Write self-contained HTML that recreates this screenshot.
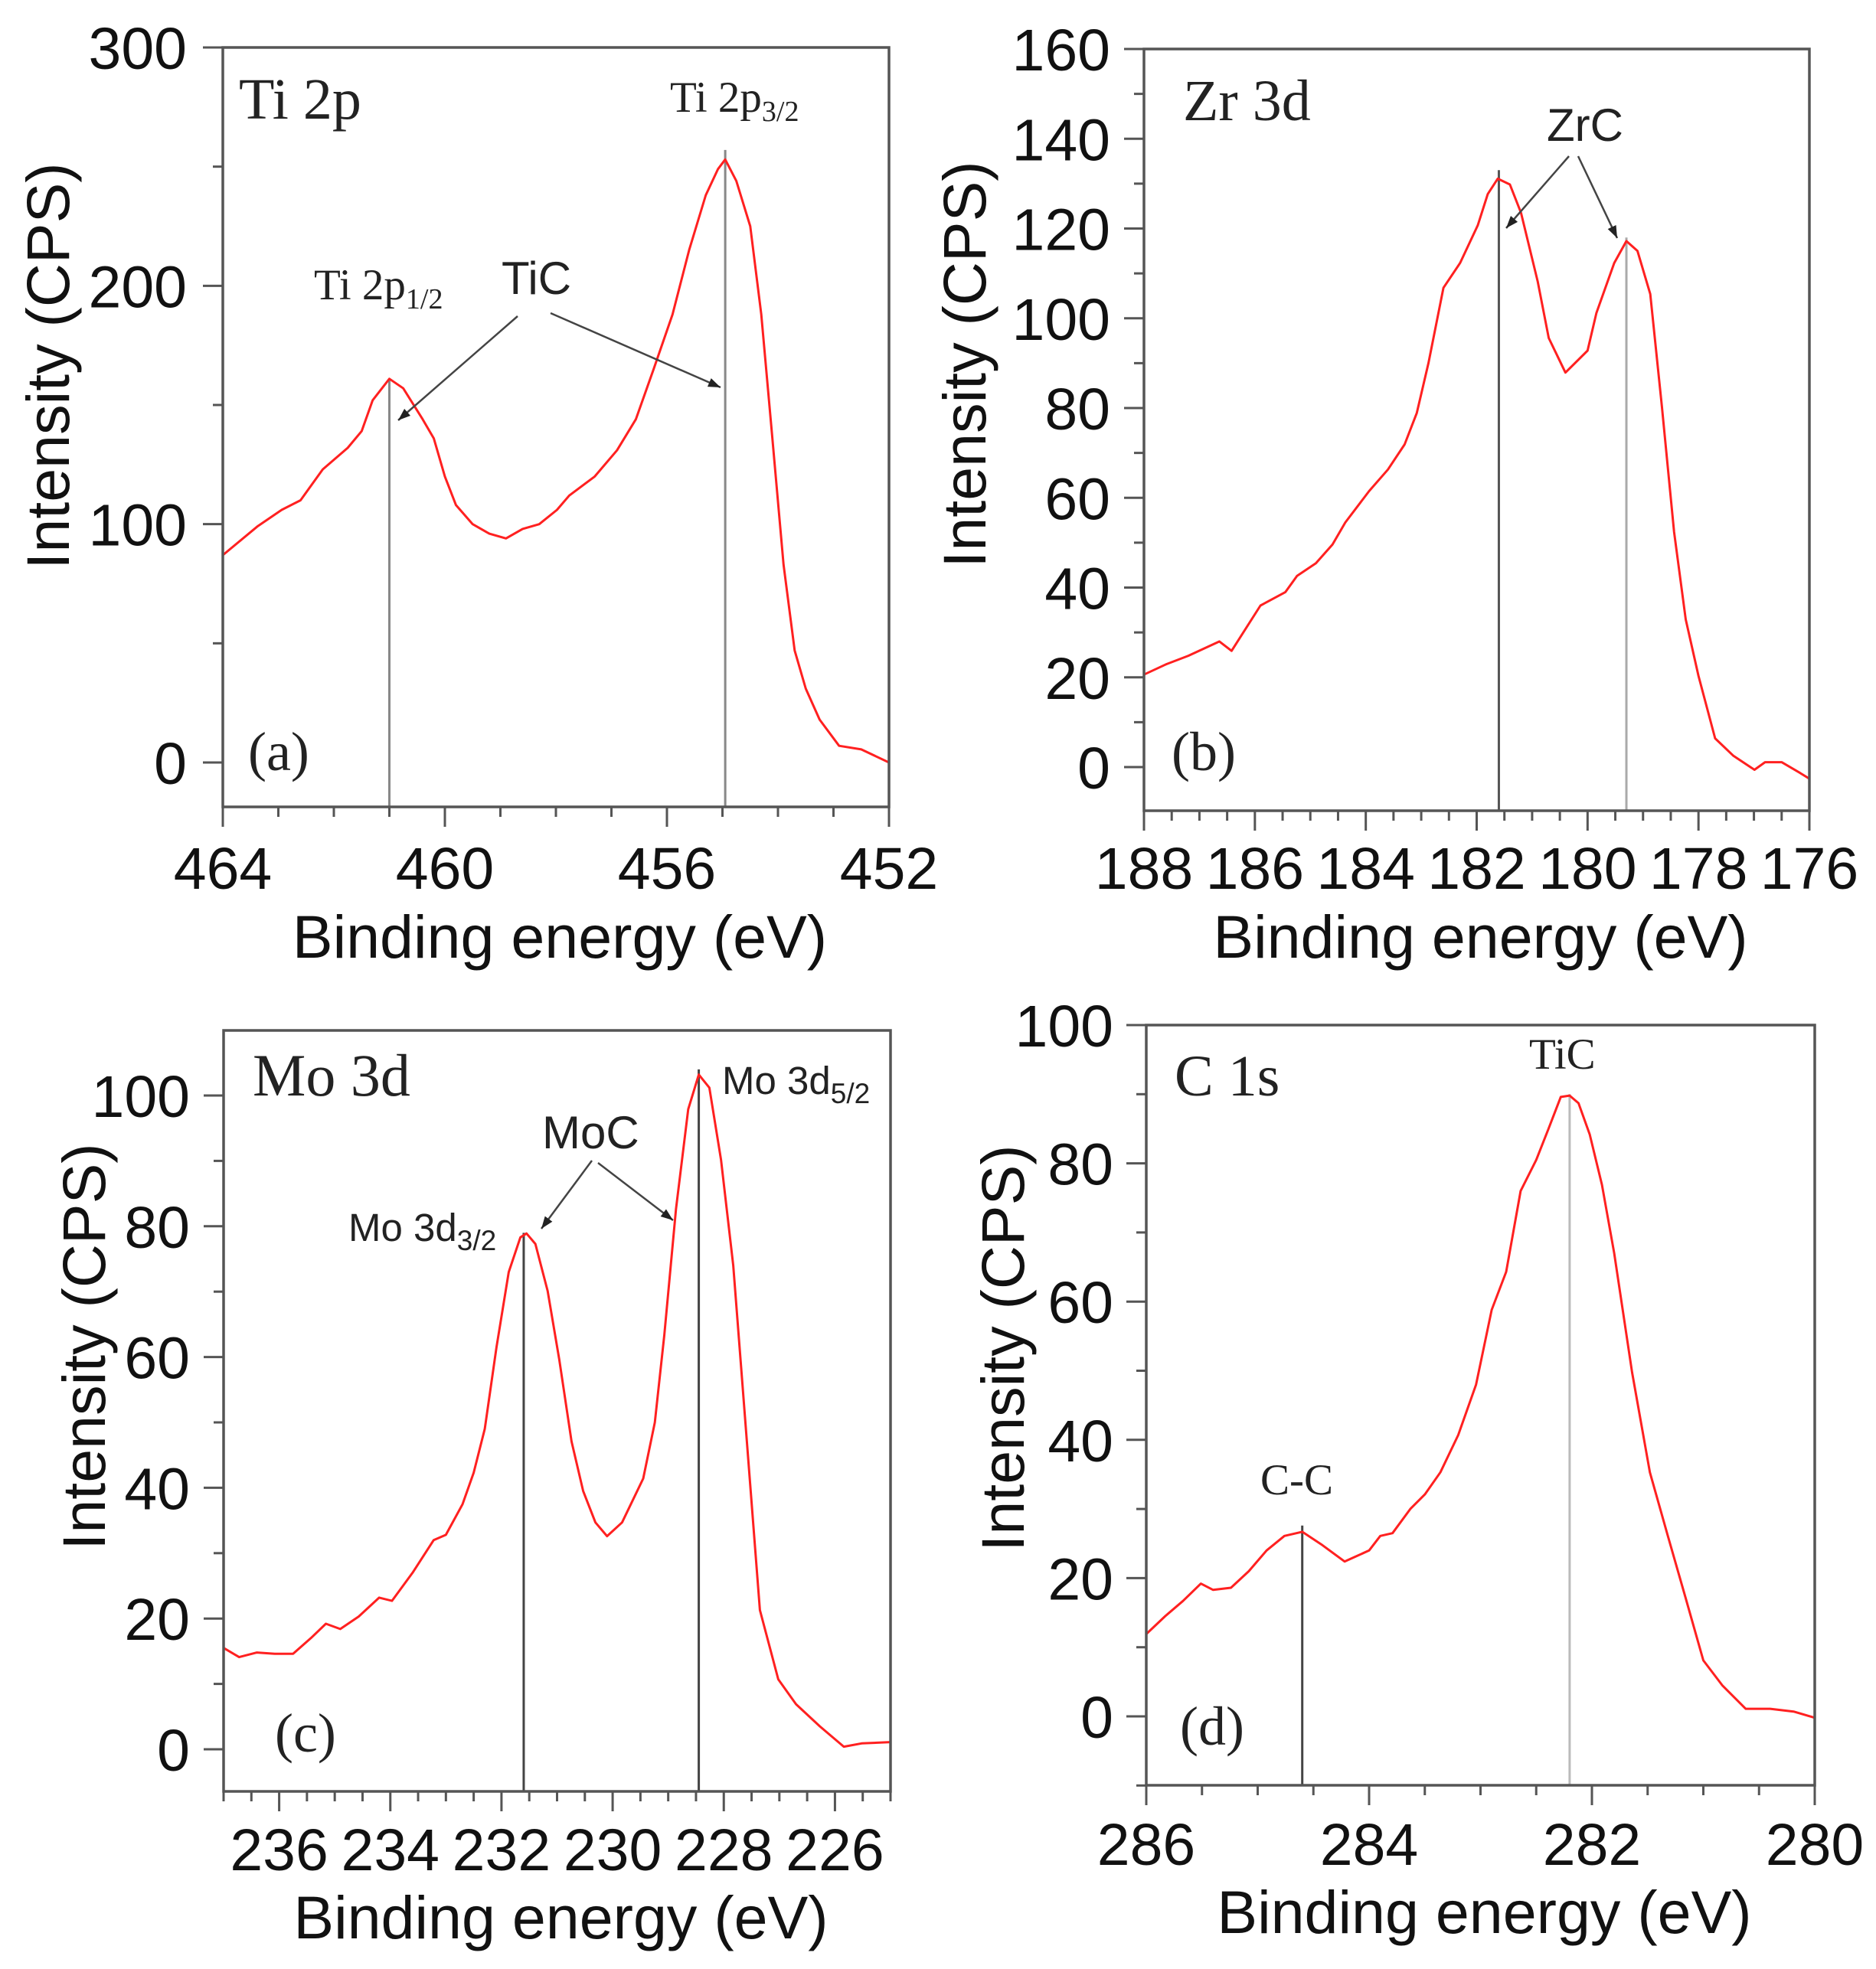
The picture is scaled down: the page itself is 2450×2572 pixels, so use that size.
<!DOCTYPE html>
<html><head><meta charset="utf-8"><style>
html,body{margin:0;padding:0;background:#fff;}
svg{display:block;}
.tick{font-family:"Liberation Sans",sans-serif;font-size:77px;fill:#111;}
.ttl{font-family:"Liberation Sans",sans-serif;font-size:79px;fill:#111;}
.ser{font-family:"Liberation Serif",serif;fill:#222;}
.san{font-family:"Liberation Sans",sans-serif;fill:#222;}
</style></head><body>
<svg id="fig" width="2450" height="2572" viewBox="0 0 2450 2572" xmlns="http://www.w3.org/2000/svg"></svg>
<script>
// ---- Panel (a) Ti 2p ----
const aX=[464,463.38,462.94,462.6,462.2,461.75,461.5,461.3,461.0,460.75,460.4,460.2,460.0,459.8,459.5,459.2,458.9,458.6,458.3,457.98,457.76,457.3,456.9,456.56,456.24,455.9,455.6,455.3,455.08,454.95,454.75,454.5,454.3,454.1,453.9,453.7,453.5,453.25,452.9,452.5,452];
const aY=[87,99,106,110,123,132,139,152,161,157,144,136,120,108,100,96,94,98,100,106,112,120,131,144,165,188,215,238,249,253,244,225,188,136,83,47,31,18,7,5.5,0];
const aPeaks=[461.0,454.95];
const aPeakTop=[161,257];
const aYTicks=[0,100,200,300];
const aXTicks=[464,460,456,452];
// ---- Panel (b) Zr 3d ----
const bX=[188,187.6,187.2,186.64,186.42,185.9,185.45,185.24,184.9,184.6,184.37,183.94,183.6,183.3,183.08,182.87,182.6,182.3,181.98,181.8,181.62,181.4,181.2,180.9,180.7,180.4,180.0,179.84,179.52,179.3,179.1,178.87,178.66,178.44,178.23,178.0,177.7,177.37,176.99,176.8,176.5,176.17,176];
const bY=[20.6,22.9,24.8,28,25.9,36,39,42.6,45.4,49.6,54.5,61.5,66.3,71.9,78.9,90,106.8,112.3,120.7,127.7,131.1,129.8,123.5,108.2,95.6,87.9,92.8,101.2,112.3,117.2,115,105.4,80.3,52.4,32.9,20.3,6.4,2.5,-0.6,1.1,1.1,-1.3,-2.6];
const bPeaks=[181.6,179.3];
const bPeakTop=[133,118];
const bYTicks=[0,20,40,60,80,100,120,140,160];
const bXTicks=[188,186,184,182,180,178,176];
// ---- Panel (c) Mo 3d ----
const cX=[237,236.72,236.4,236.08,235.75,235.43,235.16,234.9,234.57,234.2,233.97,233.6,233.22,233.0,232.7,232.5,232.3,232.09,231.87,231.66,231.55,231.39,231.17,230.96,230.74,230.53,230.31,230.1,229.83,229.45,229.24,229.07,228.86,228.64,228.45,228.26,228.05,227.83,227.62,227.35,227.02,226.7,226.27,225.84,225.52,225];
const cY=[15.5,14.1,14.8,14.6,14.6,17,19.2,18.4,20.3,23.2,22.7,27,32,32.8,37.5,42.3,49,61.5,73,78.3,78.9,77.3,70.1,59.6,47.1,39.5,34.7,32.6,34.7,41.4,50,63.4,82.6,97.9,103.2,101.2,90.2,74,51,21.3,10.7,6.9,3.5,0.4,0.9,1.1];
const cPeaks=[231.6,228.45];
const cPeakTop=[79,104];
const cYTicks=[0,20,40,60,80,100];
const cXTicks=[236,234,232,230,228,226];
// ---- Panel (d) C 1s ----
const dX=[286,285.83,285.67,285.51,285.4,285.24,285.08,284.92,284.76,284.6,284.43,284.22,284.0,283.9,283.79,283.63,283.5,283.36,283.2,283.04,282.9,282.77,282.64,282.5,282.39,282.28,282.2,282.12,282.02,281.91,281.8,281.64,281.48,281.32,281.16,281,280.83,280.62,280.4,280.19,280];
const dY=[11.9,14.5,16.7,19.2,18.3,18.6,21,24,26.1,26.7,24.9,22.4,24,26.1,26.5,30,32.1,35.3,40.7,48,58.8,64.3,76,80.5,85,89.6,89.8,88.7,84.2,76.9,67,49.8,35.3,26.2,17.2,8.1,4.5,1.1,1.1,0.7,-0.2];
const dPeaks=[284.6,282.2];
const dPeakTop=[27.6,90];
const dYTicks=[0,20,40,60,80,100];
const dXTicks=[286,284,282,280];

const NS="http://www.w3.org/2000/svg";
const svg=document.getElementById('fig');
function mk(tag,attrs,parent,text){const e=document.createElementNS(NS,tag);for(const k in attrs)e.setAttribute(k,attrs[k]);if(text!==undefined)e.textContent=text;(parent||svg).appendChild(e);return e;}

function panel(P){
  const g=mk('g',{});
  
  
  const sx=v=>P.L+(P.x0-v)/(P.x0-P.x1)*(P.R-P.L);
  const sy=v=>P.y0px+(v-0)*(P.yTop-P.y0px)/P.yMaxTick;
  P.peaks.forEach((pk,i)=>{
    const l=mk('line',{x1:sx(pk),x2:sx(pk),y1:P.B,y2:sy(P.peakTop[i]),stroke:P.peakCol[i],'stroke-width':3},g);
    
    
  });
  let d='';
  P.xs.forEach((x,i)=>{d+=(i?'L':'M')+sx(x).toFixed(1)+' '+sy(P.ys[i]).toFixed(1);});
  const c=mk('path',{d:d,fill:'none',stroke:'#ff2020','stroke-width':3,'stroke-linejoin':'round'},g);
  
  
  const f=mk('rect',{x:P.L,y:P.T,width:P.R-P.L,height:P.B-P.T,fill:'none',stroke:'#555','stroke-width':3.5},g);
  
  
  const yStep=P.yTicks[1]-P.yTicks[0];
  for(let v=P.yTicks[0]-yStep/2; v<=P.yTicks[P.yTicks.length-1]+0.001; v+=yStep/2){
    const y=sy(v); if(y>P.B+1||y<P.T-1) continue;
    const major=P.yTicks.some(t=>Math.abs(t-v)<1e-6);
    mk('line',{x1:P.L-(major?26:13),x2:P.L,y1:y,y2:y,stroke:'#555','stroke-width':3},g);
  }
  P.yTicks.forEach(v=>{
    const t=mk('text',{x:P.ytR,y:sy(v)+28,'text-anchor':'end',class:'tick'},g,String(v));
    
    
  });
  const lo=Math.min(P.x0,P.x1),hi=Math.max(P.x0,P.x1);
  for(let v=Math.ceil(lo/P.xMinor)*P.xMinor; v<=hi+1e-6; v+=P.xMinor){
    const x=sx(v);
    const major=P.xTicks.some(t=>Math.abs(t-v)<1e-6);
    mk('line',{x1:x,x2:x,y1:P.B,y2:P.B+(major?26:13),stroke:'#555','stroke-width':3},g);
  }
  P.xTicks.forEach(v=>{
    const t=mk('text',{x:sx(v),y:P.xtB,'text-anchor':'middle',class:'tick'},g,String(v));
    
    
  });
  const xt=mk('text',{x:(P.L+P.R)/2+5,y:P.xtitleB,'text-anchor':'middle',class:'ttl'},g,'Binding energy (eV)');
  
  
  const yc=P.ytitleY;
  const yt=mk('text',{x:P.ytitleX,y:yc,'text-anchor':'middle',class:'ttl',transform:'rotate(-90 '+P.ytitleX+' '+yc+')'},g,'Intensity (CPS)');
  
  
  return {g,sx,sy};
}

function txt(g,x,y,cls,size,content,name){
  const t=mk('text',{x:x,y:y,class:cls,'font-size':size},g);
  t.innerHTML=content;
  
  
  return t;
}
function arrow(g,x1,y1,x2,y2,name){
  const l=mk('line',{x1:x1,y1:y1,x2:x2,y2:y2,stroke:'#444','stroke-width':2.5},g);
  
  
  const a=Math.atan2(y2-y1,x2-x1),L=16,w=6;
  const p=[[x2,y2],[x2-L*Math.cos(a)+w*Math.sin(a),y2-L*Math.sin(a)-w*Math.cos(a)],[x2-L*Math.cos(a)-w*Math.sin(a),y2-L*Math.sin(a)+w*Math.cos(a)]];
  const h=mk('polygon',{points:p.map(q=>q.join(',')).join(' '),fill:'#222'},g);
  
  
}

// Panel a
let A=panel({id:'panel-a-ti2p',L:291,R:1161,T:62,B:1054,x0:464,x1:452,y0px:996,yTop:62,yMaxTick:300,
  xs:aX,ys:aY,peaks:aPeaks,peakTop:aPeakTop,peakCol:['#888','#888'],yTicks:aYTicks,xTicks:aXTicks,xMinor:1,
  ytR:244,xtB:1161,xtitleB:1251,ytitleX:90,ytitleY:478});
txt(A.g,312,155,'ser',76,'Ti 2p','panel-a-title');
txt(A.g,324,1006,'ser',72,'(a)','panel-a-label');
txt(A.g,410,391,'ser',57,'Ti 2p<tspan font-size="38" dy="12">1/2</tspan>','ti2p12-label');
txt(A.g,875,146,'ser',57,'Ti 2p<tspan font-size="38" dy="12">3/2</tspan>','ti2p32-label');
txt(A.g,655,384,'san',60,'TiC','tic-label');
arrow(A.g,676,413,520,549,'arrow-tic-1');
arrow(A.g,719,409,941,506,'arrow-tic-2');

// Panel b
let B=panel({id:'panel-b-zr3d',L:1494,R:2363,T:64,B:1059,x0:188,x1:176,y0px:1002,yTop:64,yMaxTick:160,
  xs:bX,ys:bY,peaks:bPeaks,peakTop:bPeakTop,peakCol:['#555','#aaa'],yTicks:bYTicks,xTicks:bXTicks,xMinor:0.5,
  ytR:1450,xtB:1161,xtitleB:1251,ytitleX:1287,ytitleY:476});
txt(B.g,1545,157,'ser',76,'Zr 3d','panel-b-title');
txt(B.g,1530,1006,'ser',72,'(b)','panel-b-label');
txt(B.g,2020,184,'san',60,'ZrC','zrc-label');
arrow(B.g,2049,204,1967,298,'arrow-zrc-1');
arrow(B.g,2061,204,2112,311,'arrow-zrc-2');

// Panel c
let C=panel({id:'panel-c-mo3d',L:292,R:1163,T:1346,B:2340,x0:237,x1:225,y0px:2285,yTop:1431,yMaxTick:100,
  xs:cX,ys:cY,peaks:cPeaks,peakTop:cPeakTop,peakCol:['#444','#444'],yTicks:cYTicks,xTicks:cXTicks,xMinor:0.5,
  ytR:248,xtB:2443,xtitleB:2532,ytitleX:137,ytitleY:1759});
txt(C.g,330,1431,'ser',78,'Mo 3d','panel-c-title');
txt(C.g,359,2288,'ser',72,'(c)','panel-c-label');
txt(C.g,455,1621,'san',51,'Mo 3d<tspan font-size="37" dy="12">3/2</tspan>','mo3d32-label');
txt(C.g,943,1429,'san',51,'Mo 3d<tspan font-size="37" dy="12">5/2</tspan>','mo3d52-label');
txt(C.g,708,1500,'san',60,'MoC','moc-label');
arrow(C.g,773,1516,707,1605,'arrow-moc-1');
arrow(C.g,781,1519,879,1594,'arrow-moc-2');

// Panel d
let D=panel({id:'panel-d-c1s',L:1497,R:2370,T:1339,B:2332,x0:286,x1:280,y0px:2242,yTop:1339,yMaxTick:100,
  xs:dX,ys:dY,peaks:dPeaks,peakTop:dPeakTop,peakCol:['#444','#bbb'],yTicks:dYTicks,xTicks:dXTicks,xMinor:0.5,
  ytR:1454,xtB:2436,xtitleB:2525,ytitleX:1337,ytitleY:1761});
txt(D.g,1534,1431,'ser',76,'C 1s','panel-d-title');
txt(D.g,1541,2279,'ser',72,'(d)','panel-d-label');
txt(D.g,1997,1396,'ser',57,'TiC','tic-c1s-label');
txt(D.g,1646,1952,'ser',57,'C-C','cc-label');
</script>
</body></html>
